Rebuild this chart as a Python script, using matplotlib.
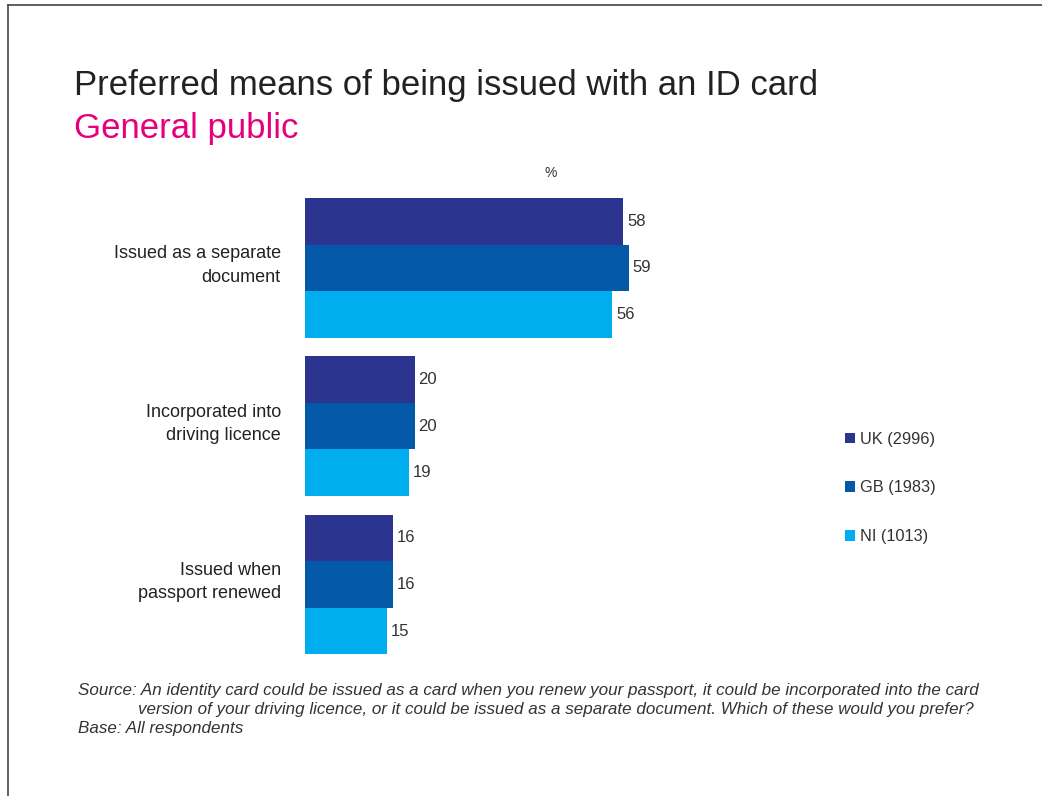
import matplotlib.pyplot as plt
from matplotlib.lines import Line2D
import numpy as np

plt.rcParams['font.family'] = ['Liberation Sans', 'DejaVu Sans']

categories = ['Issued as a separate\ndocument',
              'Incorporated into\ndriving licence',
              'Issued when\npassport renewed']
series = ['UK (2996)', 'GB (1983)', 'NI (1013)']
uk = [58, 20, 16]
gb = [59, 20, 16]
ni = [56, 19, 15]
colors = ['#2B3590', '#0358A8', '#00AEEF']

fig = plt.figure(figsize=(10.42, 7.96), dpi=100)
ax = fig.add_axes([305 / 1042, 1 - 663.7 / 796, 548.5 / 1042, 475 / 796])

h = 0.294
y = np.arange(len(categories))
for j, (vals, name, c) in enumerate(zip([uk, gb, ni], series, colors)):
    pos = y + (j - 1) * h
    ax.barh(pos, vals, height=h, color=c, label=name)
    for p, v in zip(pos, vals):
        ax.text(v + 0.7, p, str(v), va='center', ha='left',
                fontsize=12, color='#333333')

ax.set_xlim(0, 100)
ax.set_ylim(2.5, -0.5)
ax.axis('off')

for i, cat in enumerate(categories):
    ax.text(-4.4, i - 0.015, cat, ha='right', va='center', fontsize=13,
            color='#222222', linespacing=1.48)

ax.text(44.8, -0.6, '%', ha='center', va='center', fontsize=10,
        color='#333333', transform=ax.transData, clip_on=False)

leg = fig.legend(loc='upper left', bbox_to_anchor=(830 / 1042, 1 - 417 / 796),
                 frameon=False, fontsize=11.8, handlelength=0.65,
                 handleheight=0.65, handletextpad=0.25, labelspacing=2.05,
                 labelcolor='#333333')

# titles
fig.text(74 / 1042, 1 - 95 / 796, 'Preferred means of being issued with an ID card',
         fontsize=25, color='#222222', ha='left', va='baseline')
fig.text(74 / 1042, 1 - 138 / 796, 'General public',
         fontsize=25, color='#E6007E', ha='left', va='baseline')

# footnote
note_kw = dict(fontsize=12.25, style='italic', color='#333333',
               ha='left', va='baseline')
fig.text(78 / 1042, 1 - 695 / 796,
         'Source: An identity card could be issued as a card when you renew your passport, '
         'it could be incorporated into the card', **note_kw)
fig.text(138 / 1042, 1 - 714 / 796,
         'version of your driving licence, or it could be issued as a separate document. '
         'Which of these would you prefer?', **note_kw)
fig.text(78 / 1042, 1 - 733 / 796, 'Base: All respondents', **note_kw)

# page frame
fig.add_artist(Line2D([8 / 1042, 8 / 1042], [0, 1 - 5 / 796],
                      transform=fig.transFigure, color='#444444', lw=1.2))
fig.add_artist(Line2D([8 / 1042, 1], [1 - 5 / 796, 1 - 5 / 796],
                      transform=fig.transFigure, color='#444444', lw=1.2))

fig.savefig('out.png', dpi=100, facecolor='white')
